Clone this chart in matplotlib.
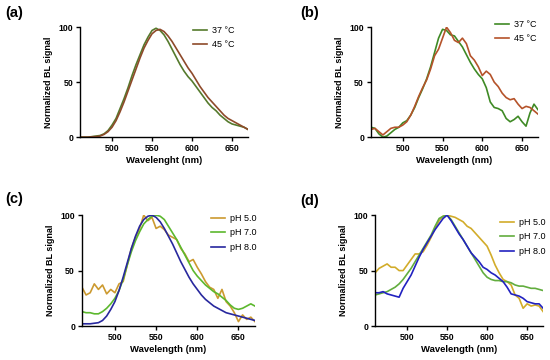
import matplotlib
matplotlib.use("Agg")
import matplotlib.pyplot as plt

plt.rcParams['font.family'] = ['Liberation Sans', 'DejaVu Sans']

wl = list(range(460, 671, 5))

# (a) temperature, smooth
a_37 = [0, 0, 0, 0.5, 1, 1.5, 3, 6, 11, 17, 26, 35, 45, 56, 66, 75, 84, 91, 97, 99,
        97, 93, 87, 80, 73, 66, 60, 55, 51, 46, 41, 36, 31, 27, 24, 20, 17, 14, 12, 11,
        10, 9, 7]
a_45 = [0, 0, 0, 0.3, 0.5, 1, 2.5, 5, 9, 15, 23, 32, 42, 52, 62, 72, 81, 88, 94, 97,
        98, 96, 92, 87, 81, 75, 69, 63, 58, 52, 46, 41, 36, 32, 28, 24, 20, 17, 15, 13,
        11, 9, 7]

# (b) temperature, noisy
b_37 = [9, 8, 3, 0, 1, 4, 7, 9, 13, 15, 20, 27, 36, 44, 53, 64, 77, 90, 98, 97,
        93, 92, 87, 82, 75, 68, 62, 57, 53, 45, 32, 27, 26, 24, 17, 14, 16, 19, 14, 10,
        22, 30, 25]
b_45 = [7, 8, 5, 2, 5, 8, 9, 9, 11, 14, 20, 28, 37, 45, 52, 62, 74, 80, 90, 100,
        95, 88, 86, 90, 85, 74, 70, 64, 56, 60, 57, 50, 46, 40, 36, 34, 35, 30, 26, 28,
        27, 24, 21]

# (c) pH
c_50 = [35, 28, 30, 38, 33, 37, 29, 33, 30, 38, 40, 55, 70, 80, 88, 100, 95, 98, 88, 90,
        87, 82, 80, 78, 70, 65, 58, 60, 53, 47, 40, 35, 33, 25, 33, 22, 18, 12, 4, 10,
        6, 8, 4]
c_70 = [13, 12, 12, 11, 11, 13, 16, 20, 25, 32, 42, 55, 67, 77, 85, 92, 96, 99, 100, 99,
        96, 90, 84, 78, 71, 64, 57, 50, 45, 41, 37, 34, 31, 29, 26, 23, 19, 16, 15, 16,
        18, 20, 18]
c_80 = [2, 2, 2, 2.5, 3, 5, 9, 15, 22, 32, 44, 57, 70, 81, 90, 96, 99, 100, 98, 94,
        88, 81, 74, 66, 58, 51, 44, 38, 33, 28, 24, 21, 18, 16, 14, 12, 11, 10, 9, 8,
        7, 6, 5]

# (d) pH
d_50 = [48, 52, 54, 56, 53, 53, 50, 50, 55, 60, 65, 65, 67, 73, 80, 88, 95, 99, 100, 99,
        98, 96, 94, 90, 88, 84, 80, 76, 72, 64, 55, 48, 42, 40, 37, 28, 25, 16, 20, 18,
        19, 18, 13]
d_70 = [28, 29, 30, 31, 33, 35, 38, 42, 47, 52, 58, 64, 70, 76, 82, 90, 97, 99, 100, 96,
        90, 84, 78, 72, 66, 60, 54, 48, 44, 42, 41, 41, 40, 40, 39, 37, 36, 36, 35, 34,
        34, 33, 32]
d_80 = [30, 30, 31, 29, 28, 27, 26, 34, 40, 46, 54, 62, 69, 75, 81, 87, 92, 97, 100, 95,
        89, 83, 78, 72, 66, 62, 58, 53, 51, 48, 46, 43, 40, 35, 29, 28, 27, 25, 22, 21,
        20, 20, 16]

fig = plt.figure(figsize=(5.5, 3.6), dpi=100)

# (letter, axes rect, xlabel, series, legend upper-left in px, letter pos in px)
panels = [
    ("(a)", [0.1455, 0.619, 0.3055, 0.3056], "Wavelenght (nm)",
     [(a_37, "37 °C", "#557a2c"), (a_45, "45 °C", "#8e4a2a")], (193, 26), (5, 13)),
    ("(b)", [0.6745, 0.619, 0.3036, 0.3056], "Wavelength (nm)",
     [(b_37, "37 °C", "#3f8a25"), (b_45, "45 °C", "#b5532a")], (495, 20), (300, 13)),
    ("(c)", [0.149, 0.0944, 0.3145, 0.308], "Wavelength (nm)",
     [(c_50, "pH 5.0", "#cc9a30"), (c_70, "pH 7.0", "#5cb82e"), (c_80, "pH 8.0", "#28289e")],
     (211, 214), (5, 199)),
    ("(d)", [0.682, 0.0944, 0.3055, 0.308], "Wavelength (nm)",
     [(d_50, "pH 5.0", "#d2ac2a"), (d_70, "pH 7.0", "#62ad3e"), (d_80, "pH 8.0", "#2222c0")],
     (500, 218), (300, 201)),
]

for letter, pos, xlab, series, leg_px, let_px in panels:
    ax = fig.add_axes(pos)
    for vals, lab, col in series:
        ax.plot(wl, vals, color=col, lw=1.2, label=lab)
    ax.set_xlim(460, 670)
    ax.set_ylim(0, 100)
    ax.set_xticks([500, 550, 600, 650])
    ax.set_yticks([0, 50, 100])
    ax.spines['top'].set_visible(False)
    ax.spines['right'].set_visible(False)
    for s in ['left', 'bottom']:
        ax.spines[s].set_linewidth(1.0)
    ax.tick_params(direction='out', length=3, width=1.0, labelsize=6.3, pad=2)
    for t in ax.get_xticklabels() + ax.get_yticklabels():
        t.set_fontweight('bold')
    ax.set_xlabel(xlab, fontsize=6.8, fontweight='bold', labelpad=2)
    ax.set_ylabel("Normalized BL signal", fontsize=6.5, fontweight='bold', labelpad=4)
    ax.legend(loc='upper left', bbox_to_anchor=(leg_px[0] / 550, 1 - leg_px[1] / 360),
              bbox_transform=fig.transFigure, frameon=False, fontsize=6.5,
              handlelength=1.5, handletextpad=0.6, labelspacing=0.6,
              borderaxespad=0, borderpad=0)
    fig.text(let_px[0] / 550, 1 - let_px[1] / 360, letter, fontsize=10.5,
             fontweight='bold', va='center', ha='left')

fig.savefig("out.png", dpi=100)
